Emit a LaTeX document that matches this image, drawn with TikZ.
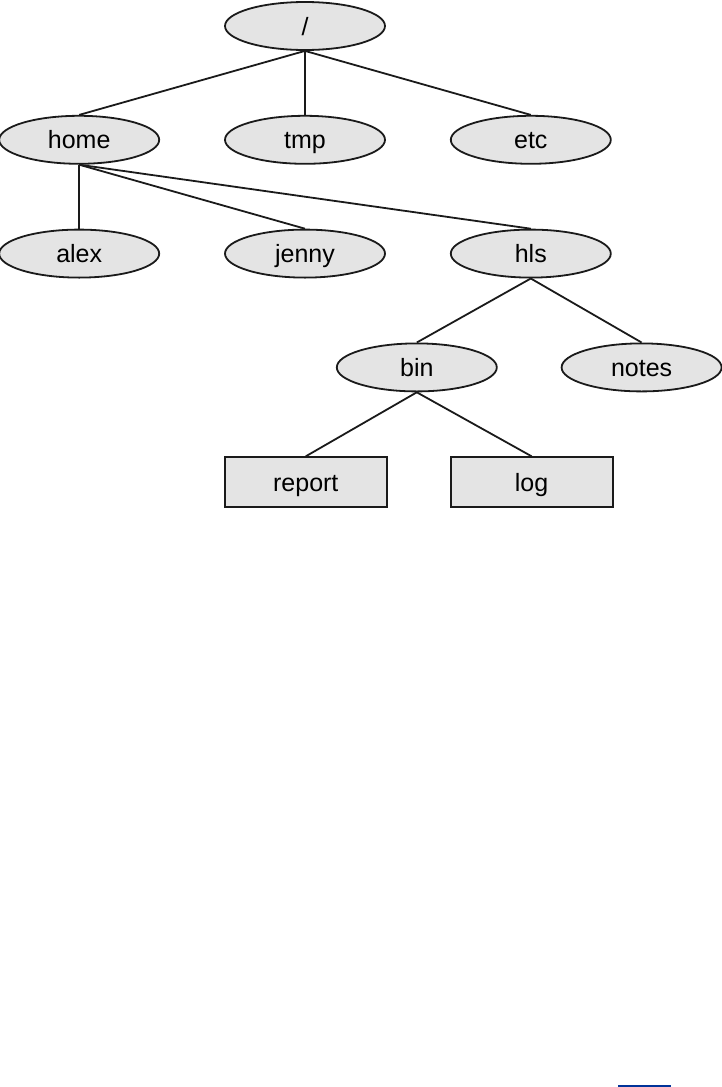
\documentclass[tikz,border=0pt]{standalone}
\usepackage{fontspec}
\setmainfont{Liberation Sans}
\usetikzlibrary{positioning,shapes.geometric}
\definecolor{DirFill}{HTML}{E4E4E4}
\definecolor{DirLine}{HTML}{1A1A1A}
\definecolor{LinkBlue}{HTML}{003399}
\begin{document}
\begin{tikzpicture}[x=1pt,y=1pt,node distance=64pt]
\tikzset{dir/.style={ellipse,fill=DirFill,draw=DirLine,line width=1.8pt,minimum width=160pt,minimum height=48pt,inner sep=0pt,text height=22pt,text depth=4pt,font=\fontsize{25}{30}\selectfont},file/.style={rectangle,fill=DirFill,draw=DirLine,line width=1.8pt,minimum width=162pt,minimum height=50pt,inner sep=0pt,text height=22pt,text depth=4pt,font=\fontsize{25}{30}\selectfont},edge/.style={DirLine,line width=1.8pt}}
\useasboundingbox (0,0) rectangle (721,-1087);
\node[dir] (root) at (305,-26) {/};
\node[dir,below=of root] (tmp) {tmp};
\node[dir,left=of tmp] (home) {home};
\node[dir,right=of tmp] (etc) {etc};
\node[dir,below=of tmp] (jenny) {jenny};
\node[dir,left=of jenny] (alex) {alex};
\node[dir,right=of jenny] (hls) {hls};
\node[dir,below=of hls,xshift=-114pt] (bin) {bin};
\node[dir,right=63pt of bin] (notes) {notes};
\node[file,below=of bin,xshift=-111pt] (report) {report};
\node[file,right=62pt of report] (log) {log};
\draw[edge](root.south)--(home.north);\draw[edge](root.south)--(tmp.north);\draw[edge](root.south)--(etc.north);
\draw[edge](home.south)--(alex.north);\draw[edge](home.south)--(jenny.north);\draw[edge](home.south)--(hls.north);
\draw[edge](hls.south)--(bin.north);\draw[edge](hls.south)--(notes.north);
\draw[edge](bin.south)--(report.north);\draw[edge](bin.south)--(log.north);
\draw[LinkBlue,line width=2pt](618,-1086)--(671,-1086);
\end{tikzpicture}
\end{document}
